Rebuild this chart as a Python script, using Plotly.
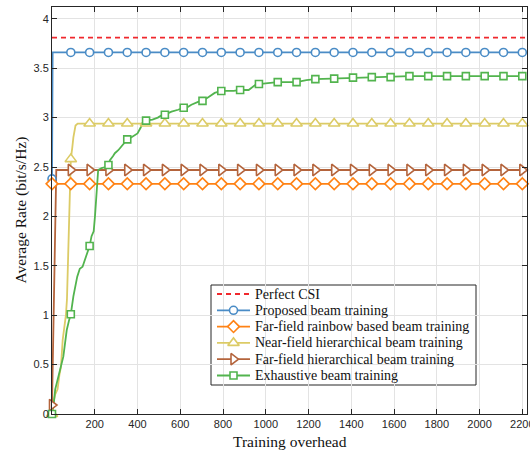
import plotly.graph_objects as go

# ---------------- data ----------------
perfect_x = [0, 2222]
perfect_y = [3.81, 3.81]

prop_x = [0, 3, 2200]
prop_y = [2.38, 3.66, 3.66]

rain_x = [0, 2200]
rain_y = [2.33, 2.33]

nfh_x = [0, 5, 15, 26, 35, 42, 50, 60, 65, 70, 75, 81, 88, 95, 100, 110, 120, 2200]
nfh_y = [0, 0.1, 0.2, 0.25, 0.4, 0.48, 0.75, 0.9, 1.0, 1.16, 1.5, 2.0, 2.58, 2.7, 2.8, 2.92, 2.94, 2.94]

ffh_x = [0, 20, 2200]
ffh_y = [0.09, 2.47, 2.47]

ex_x = [0, 8, 15, 29, 40, 53, 60, 69, 80, 88, 100, 110, 118, 130, 143, 160, 176, 185, 195, 201,
        209, 216, 232, 250, 264, 271, 285, 294, 310, 325, 352, 370, 400, 415, 426, 440, 470, 495,
        510, 528, 559, 590, 616, 629, 652, 683, 704, 733, 761, 792, 850, 880, 920, 950, 968, 1010,
        1056, 1144, 1190, 1232, 1320, 1408, 1496, 1584, 1640, 1672, 2200]
ex_y = [0.0, 0.1, 0.25, 0.37, 0.45, 0.58, 0.7, 0.85, 0.95, 1.01, 1.19, 1.3, 1.39, 1.47, 1.49, 1.6,
        1.70, 1.80, 1.85, 2.0, 2.24, 2.47, 2.49, 2.5, 2.52, 2.57, 2.61, 2.64, 2.67, 2.71, 2.78, 2.8,
        2.84, 2.9, 2.96, 2.97, 2.98, 3.0, 3.02, 3.03, 3.06, 3.08, 3.10, 3.10, 3.13, 3.16, 3.17, 3.21,
        3.25, 3.27, 3.27, 3.28, 3.28, 3.33, 3.34, 3.35, 3.36, 3.36, 3.38, 3.39, 3.395, 3.405, 3.41,
        3.41, 3.415, 3.42, 3.42]

# marker positions
mark_x = [0, 88, 176, 264, 352, 440, 528, 616, 704, 792, 880, 968, 1056, 1144, 1232, 1320,
          1408, 1496, 1584, 1672, 1760, 1848, 1936, 2024, 2112, 2200]
prop_mark_y = [2.38] + [3.66] * 25
rain_mark_y = [2.33] * 26
nfh_mark_y = [0, 2.58] + [2.94] * 24
ffh_mark_y = [0.09] + [2.47] * 25
ex_mark_y = [0.0, 1.01, 1.70, 2.52, 2.78, 2.97, 3.03, 3.10, 3.17, 3.27, 3.28, 3.34, 3.36, 3.36,
             3.39, 3.395, 3.405, 3.41, 3.41, 3.42, 3.42, 3.42, 3.42, 3.42, 3.42, 3.42]

names = ["Perfect CSI", "Proposed beam training", "Far-field rainbow based beam training",
         "Near-field hierarchical beam training", "Far-field hierarchical beam training",
         "Exhaustive beam training"]

x_ticks = [200, 400, 600, 800, 1000, 1200, 1400, 1600, 1800, 2000, 2200]
y_ticks = [0, 0.5, 1, 1.5, 2, 2.5, 3, 3.5, 4]
y_tick_text = ["0", "0.5", "1", "1.5", "2", "2.5", "3", "3.5", "4"]

# ---------------- style ----------------
RED = "#f0282d"
BLUE = "#4a8cc6"
ORANGE = "#ff8214"
YELLOW = "#dccb66"
BROWN = "#b4643c"
GREEN = "#52b44e"
LW = 1.8
AX = "#262626"
SERIF = "Liberation Serif, Times New Roman, serif"

W, H = 530, 451
PL, PR, PT, PB = 52, 3, 7, 37
X_TOP, X_BOT = PT, H - PB
X_LEFT, X_RIGHT = PL, W - PR

fig = go.Figure()

series = [
    (prop_x, prop_y, prop_mark_y, BLUE, "circle", 8),
    (rain_x, rain_y, rain_mark_y, ORANGE, "diamond", 9),
    (nfh_x, nfh_y, nfh_mark_y, YELLOW, "triangle-up", 10),
    (ffh_x, ffh_y, ffh_mark_y, BROWN, "triangle-right", 10),
    (ex_x, ex_y, ex_mark_y, GREEN, "square", 7),
]

fig.add_trace(go.Scatter(x=perfect_x, y=perfect_y, mode="lines",
                         line=dict(color=RED, width=LW, dash="5px,4px"),
                         showlegend=False, hoverinfo="skip"))
for lx, ly, my, col, sym, sz in series:
    fig.add_trace(go.Scatter(x=lx, y=ly, mode="lines", line=dict(color=col, width=LW),
                             showlegend=False, hoverinfo="skip"))
for lx, ly, my, col, sym, sz in series:
    fig.add_trace(go.Scatter(x=mark_x, y=my, mode="markers", cliponaxis=False,
                             marker=dict(symbol=sym, size=sz, color="white",
                                         line=dict(color=col, width=1.6)),
                             showlegend=False, hoverinfo="skip"))

# ---------- custom legend on an overlay axis measured in pixels ----------
LEG_L, LEG_R, LEG_T, LEG_B = 211, 476, 285, 385
row_y = [294, 310.3, 326.6, 342.9, 359.2, 375.5]
sym_l, sym_r, txt_x = 217, 250, 253

fig.add_shape(type="rect", xref="x2", yref="y2", x0=LEG_L, x1=LEG_R, y0=LEG_T, y1=LEG_B,
              fillcolor="white", line=dict(color=AX, width=1), layer="below")

fig.add_trace(go.Scatter(x=[sym_l, sym_r], y=[row_y[0]] * 2, xaxis="x2", yaxis="y2",
                         mode="lines", line=dict(color=RED, width=LW, dash="5px,4px"),
                         showlegend=False, hoverinfo="skip"))
for i, (lx, ly, my, col, sym, sz) in enumerate(series):
    r = row_y[i + 1]
    fig.add_trace(go.Scatter(x=[sym_l, sym_r], y=[r, r], xaxis="x2", yaxis="y2",
                             mode="lines", line=dict(color=col, width=LW),
                             showlegend=False, hoverinfo="skip"))
    fig.add_trace(go.Scatter(x=[(sym_l + sym_r) / 2], y=[r], xaxis="x2", yaxis="y2",
                             mode="markers", cliponaxis=False,
                             marker=dict(symbol=sym, size=sz, color="white",
                                         line=dict(color=col, width=1.6)),
                             showlegend=False, hoverinfo="skip"))

annotations = [
    dict(text=names[i], xref="x2", yref="y2", x=txt_x, y=row_y[i], xanchor="left",
         yanchor="middle", showarrow=False, font=dict(family=SERIF, size=14, color="#111111"))
    for i in range(len(names))
]
annotations += [
    dict(text="Training overhead", xref="paper", yref="paper",
         x=0.5, y=-(441 - X_BOT) / (X_BOT - X_TOP), xanchor="center", yanchor="middle",
         showarrow=False, font=dict(family=SERIF, size=15.5, color="#111111")),
    dict(text="Average Rate (bit/s/Hz)", xref="paper", yref="paper", textangle=-90,
         x=-(PL - 20) / (X_RIGHT - X_LEFT), y=0.5, xanchor="center", yanchor="middle",
         showarrow=False, font=dict(family=SERIF, size=15.5, color="#111111")),
]

fig.update_layout(
    width=W, height=H,
    margin=dict(l=PL, r=PR, t=PT, b=PB, autoexpand=False),
    paper_bgcolor="white", plot_bgcolor="white",
    font=dict(family="Liberation Sans, Arial, sans-serif", size=11, color=AX),
    showlegend=False,
    hovermode=False,
    annotations=annotations,
    xaxis2=dict(overlaying="x", range=[X_LEFT, X_RIGHT], visible=False, fixedrange=True),
    yaxis2=dict(overlaying="y", range=[X_BOT, X_TOP], visible=False, fixedrange=True),
)

fig.layout.xaxis.update(range=[0, 2222], tickvals=x_ticks, ticktext=[str(v) for v in x_ticks],
                        showgrid=True, gridcolor="#e3e3e3", gridwidth=1,
                        showline=True, linecolor=AX, linewidth=1, mirror="ticks",
                        ticks="inside", ticklen=5, tickcolor=AX, zeroline=False,
                        ticklabeloverflow="allow", automargin=False,
                        tickfont=dict(size=11, color=AX))
fig.layout.yaxis.update(range=[0, 4.12], tickvals=y_ticks, ticktext=y_tick_text,
                        showgrid=True, gridcolor="#e3e3e3", gridwidth=1,
                        showline=True, linecolor=AX, linewidth=1, mirror="ticks",
                        ticks="inside", ticklen=5, tickcolor=AX, zeroline=False,
                        ticklabeloverflow="allow", automargin=False,
                        tickfont=dict(size=11, color=AX))

fig.write_html("out.html", config={"displayModeBar": False},
               post_script="document.body.style.margin='0px';")
